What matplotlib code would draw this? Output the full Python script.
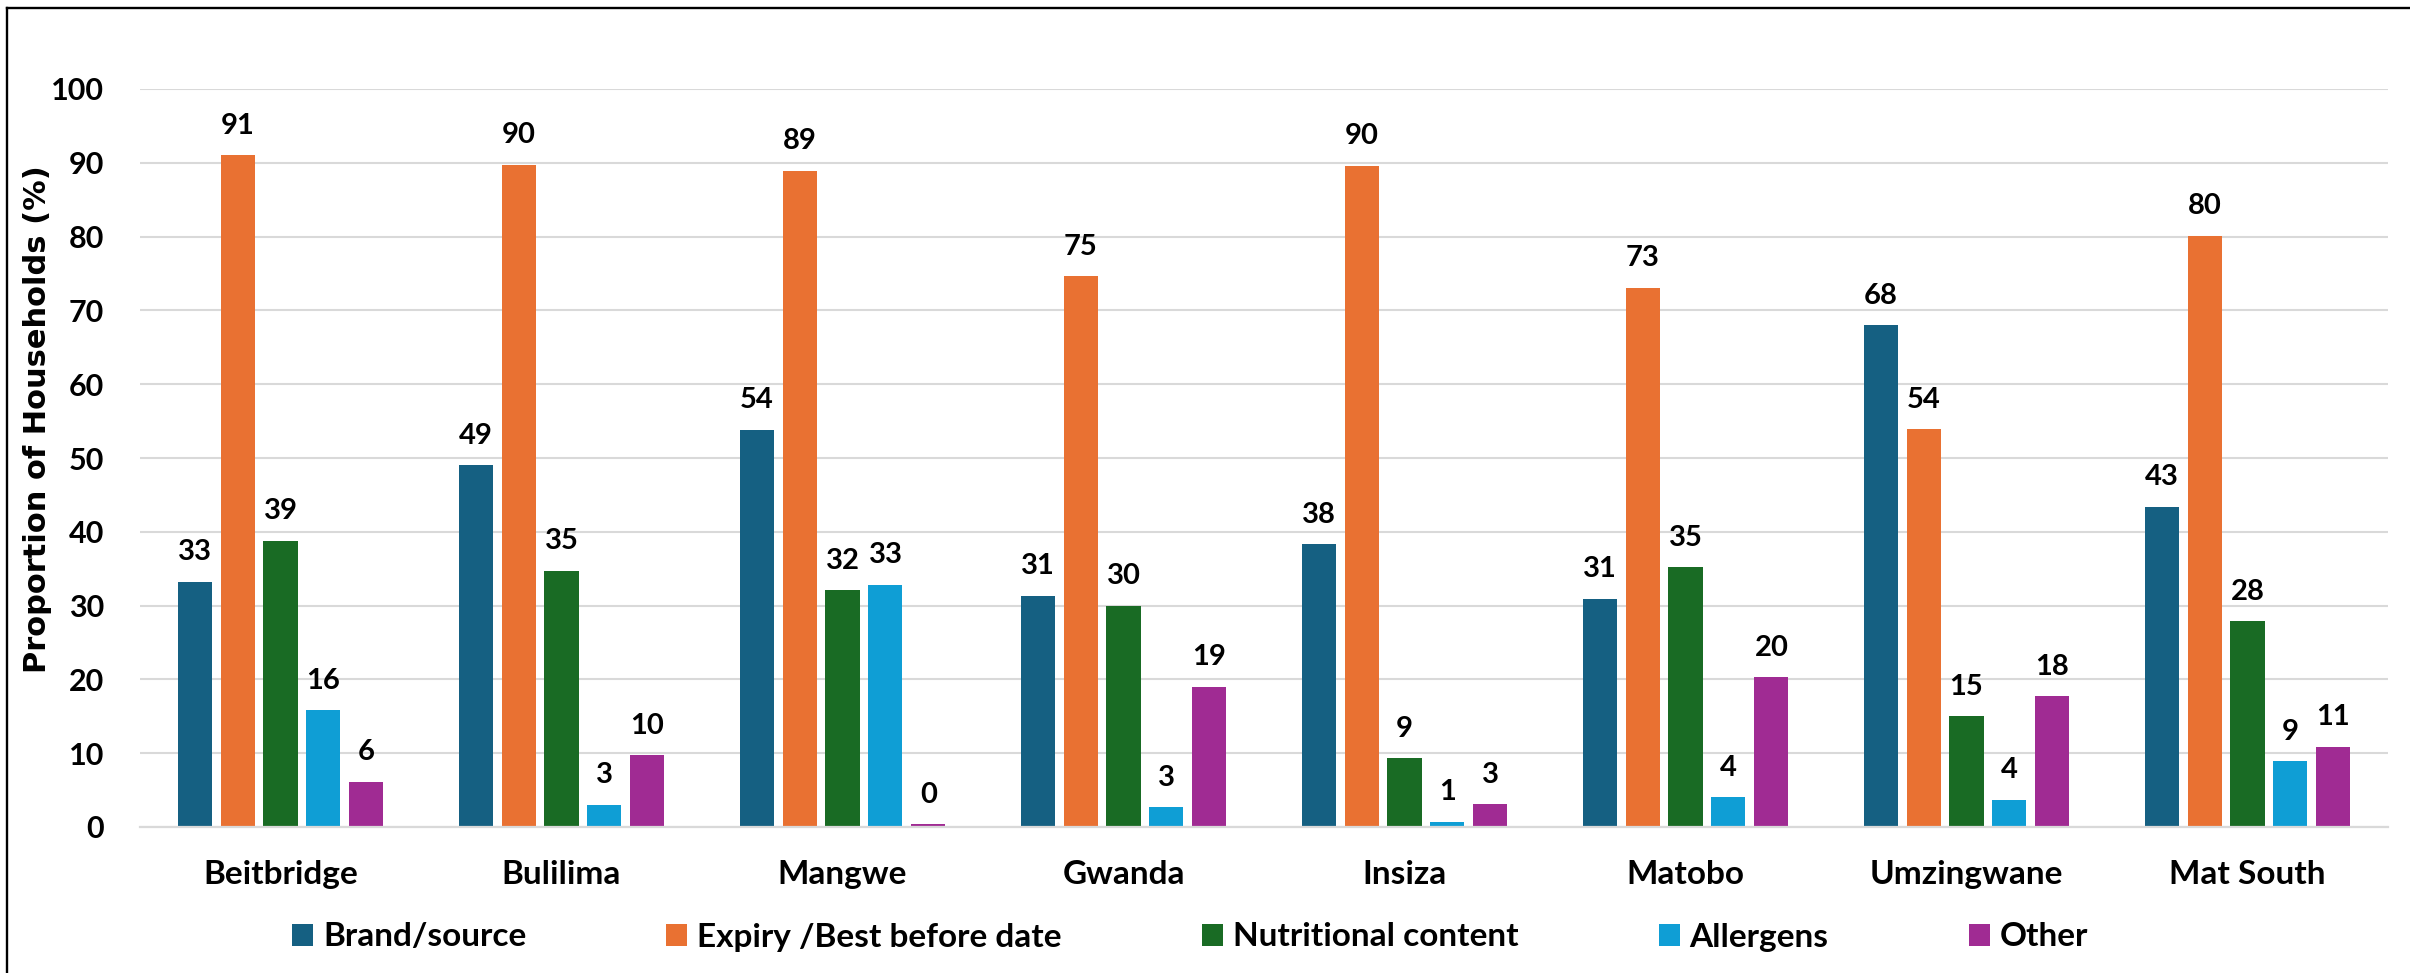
import matplotlib
matplotlib.use("Agg")
import matplotlib.pyplot as plt
from matplotlib.patches import Patch
from matplotlib.lines import Line2D
import numpy as np

# Districts and the share of households checking each label item (%)
districts = ["Beitbridge", "Bulilima", "Mangwe", "Gwanda", "Insiza",
             "Matobo", "Umzingwane", "Mat South"]
series_names = ["Brand/source", "Expiry /Best before date", "Nutritional content",
                "Allergens", "Other"]
brand_source = [33.2, 49.0, 53.8, 31.3, 38.3, 30.9, 68.0, 43.4]
expiry_date = [91.0, 89.7, 88.9, 74.6, 89.6, 73.1, 53.9, 80.1]
nutritional = [38.8, 34.7, 32.1, 30.0, 9.3, 35.2, 15.0, 27.9]
allergens = [15.8, 3.0, 32.8, 2.7, 0.7, 4.0, 3.7, 8.9]
other = [6.1, 9.7, 0.4, 19.0, 3.1, 20.3, 17.7, 10.9]
y_ticks = list(range(0, 101, 10))

colors = ["#156082", "#E97132", "#196B24", "#0F9ED5", "#A02B93"]
series = [brand_source, expiry_date, nutritional, allergens, other]

W, H = 2410, 973
fig = plt.figure(figsize=(W / 100, H / 100), dpi=100)
ax = fig.add_axes([140 / W, 1 - 827 / H, (2388 - 140) / W, (827 - 89) / H])

font = "Lato"
x = np.arange(len(districts))
pitch = 0.153
width = 0.121

for k, (vals, col) in enumerate(zip(series, colors)):
    xs = x + (k - 2) * pitch
    ax.bar(xs, vals, width=width, color=col, zorder=3)
    for xi, v in zip(xs, vals):
        ax.annotate(f"{v:.0f}", (xi, v), xytext=(0, 15.5), textcoords="offset points",
                    ha="center", va="baseline", fontsize=21, fontweight="bold",
                    family=font, color="black", zorder=4)

ax.set_xlim(-0.5, len(districts) - 0.5)
ax.set_ylim(0, 100)
ax.set_yticks(y_ticks)
ax.set_yticklabels([str(t) for t in y_ticks], fontsize=22, fontweight="bold", family=font)
ax.set_xticks(x)
ax.set_xticklabels(districts, fontsize=24, fontweight="bold", family=font)
ax.tick_params(axis="both", length=0)
ax.tick_params(axis="y", pad=26)
ax.tick_params(axis="x", pad=24)

ax.grid(axis="y", color="#D9D9D9", linewidth=1.5, zorder=0)
for side in ["top", "right", "left"]:
    ax.spines[side].set_visible(False)
ax.spines["bottom"].set_color("#D9D9D9")
ax.spines["bottom"].set_linewidth(1.6)
ax.spines["bottom"].set_zorder(5)

ax.set_ylabel("Proportion of Households (%)", fontsize=22, fontweight="bold",
              family="DejaVu Sans", va="center")
ax.yaxis.set_label_coords((38 - 140) / (2388 - 140), (827 - 419) / (827 - 89))

handles = [Patch(facecolor=c, edgecolor="none") for c in colors]
fig.legend(handles, series_names, loc="center", bbox_to_anchor=(1190 / W, 1 - 937 / H),
           ncol=5, frameon=False, prop={"family": font, "weight": "bold", "size": 24},
           handlelength=0.63, handleheight=0.63, handletextpad=0.3,
           columnspacing=4.2, borderaxespad=0)

# Frame lines along the top and left edges
fig.add_artist(Line2D([7.5 / W, 1.0], [1 - 7.5 / H, 1 - 7.5 / H], transform=fig.transFigure,
                      color="black", linewidth=1.7))
fig.add_artist(Line2D([7.5 / W, 7.5 / W], [0.0, 1 - 7.5 / H], transform=fig.transFigure,
                      color="black", linewidth=1.7))

fig.savefig("out.png", dpi=100, facecolor="white")
